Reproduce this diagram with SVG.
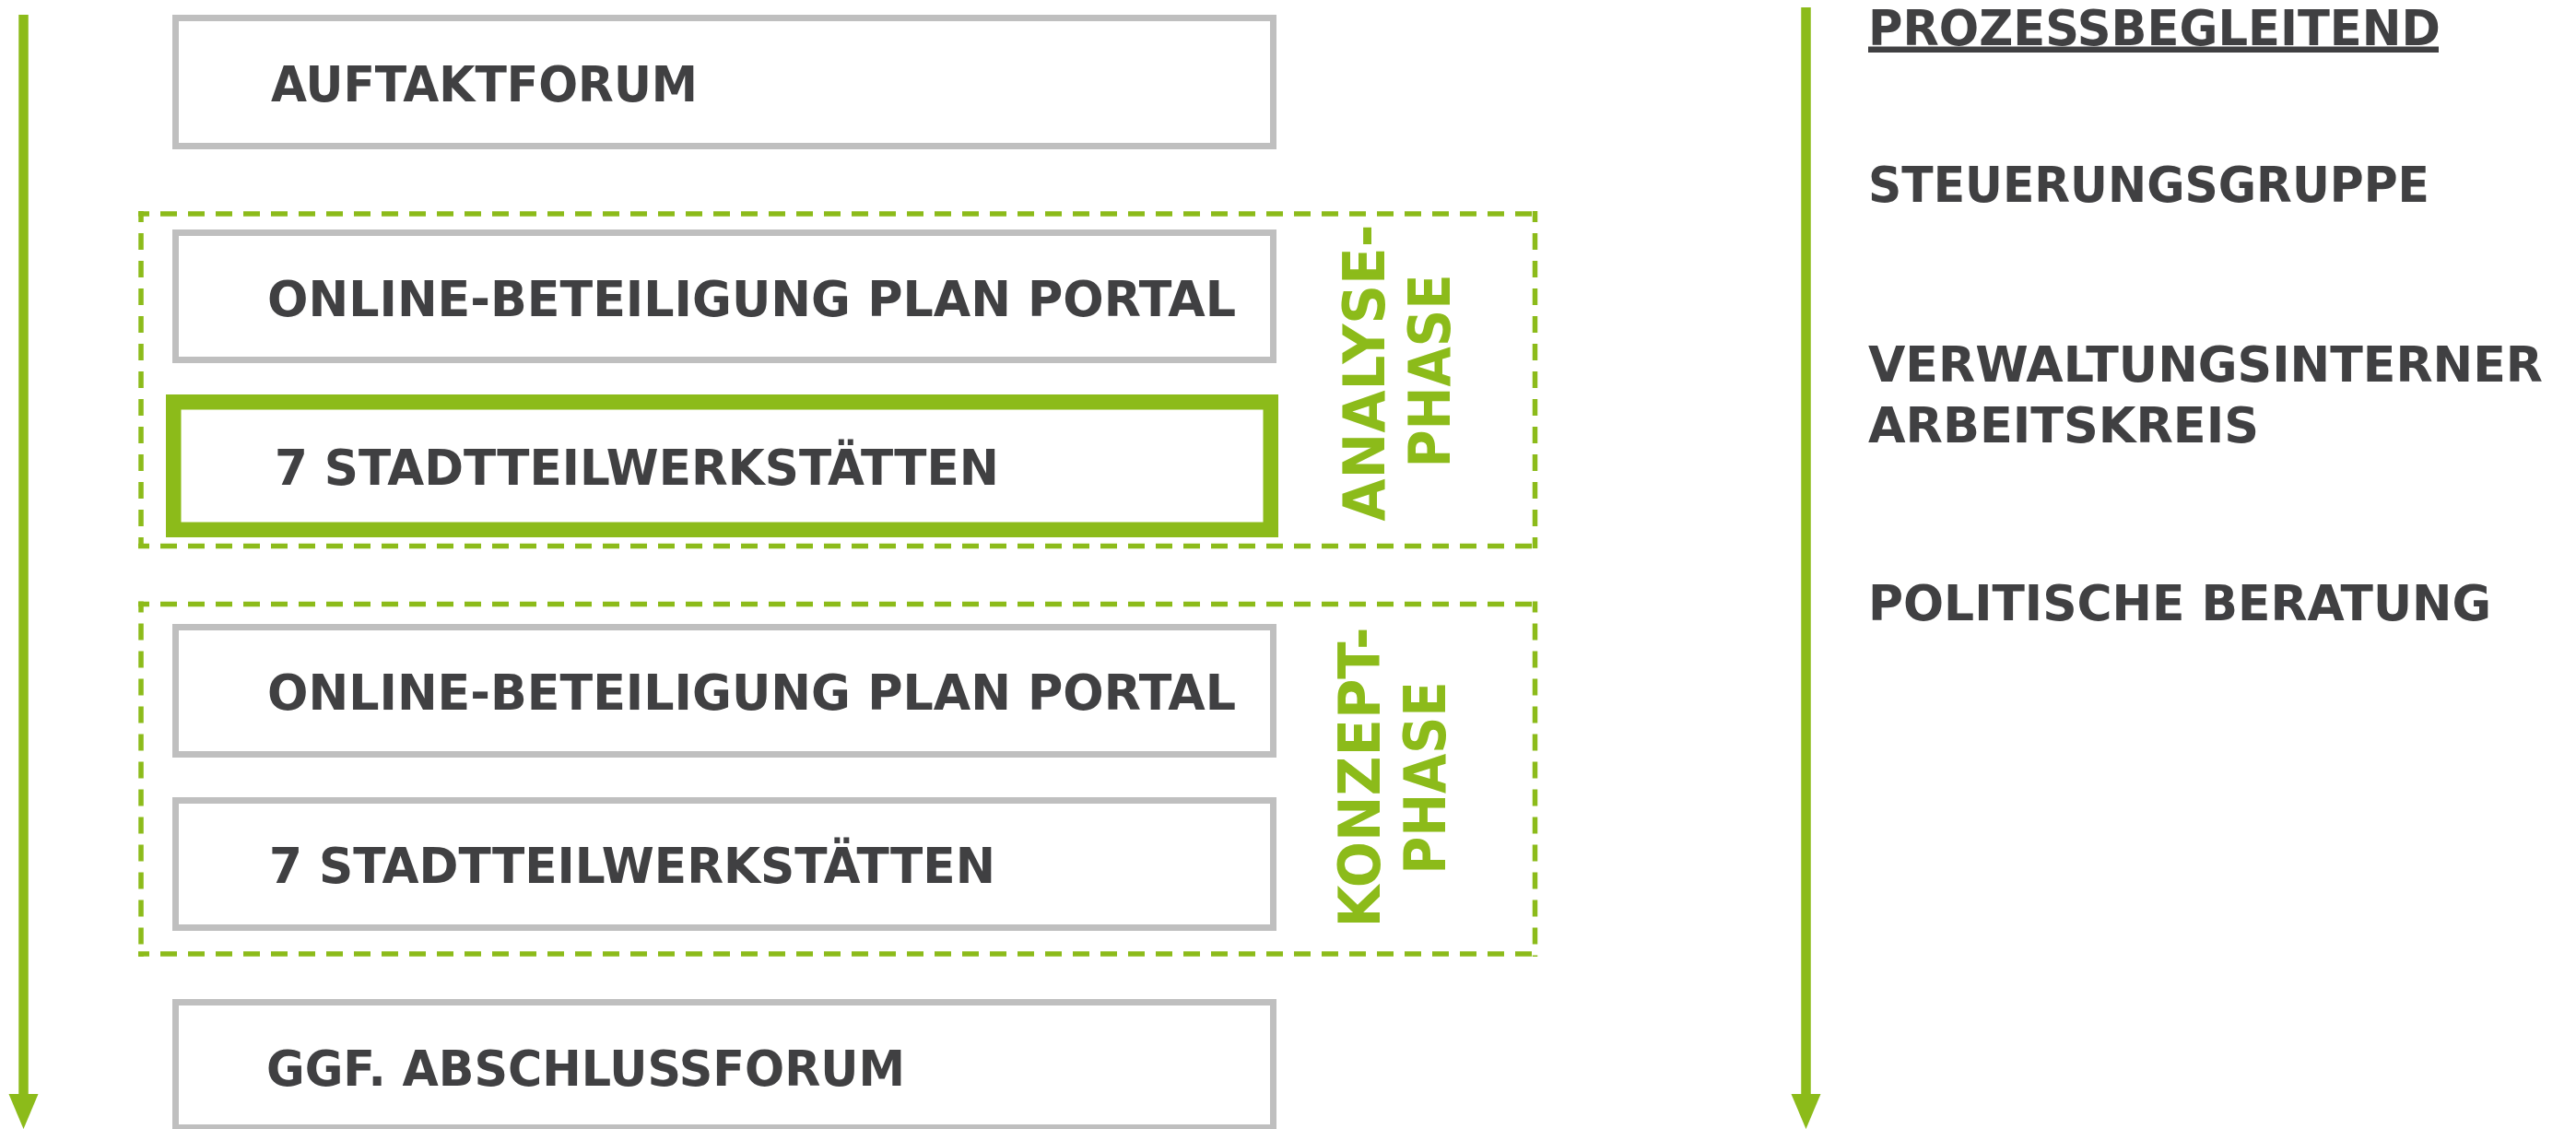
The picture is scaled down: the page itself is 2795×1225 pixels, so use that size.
<svg xmlns="http://www.w3.org/2000/svg" width="2795" height="1225" viewBox="0 0 2795 1225">
<style>
.bg{fill:#ffffff}
.box{fill:#ffffff;stroke:#BFBFBF;stroke-width:7}
.hl{fill:#ffffff;stroke:#8CBB1A;stroke-width:16.5}
.dash{fill:none;stroke:#8CBB1A;stroke-width:5.5;stroke-dasharray:18 12;stroke-dashoffset:6}
.t{font-family:"DejaVu Sans","Verdana",sans-serif;font-weight:bold;font-size:54px;fill:#404042}
.v{font-family:"DejaVu Sans","Verdana",sans-serif;font-weight:bold;font-size:62px;fill:#8CBB1A;text-anchor:middle}
.arr{stroke:#8CBB1A;stroke-width:10.5;fill:none}
</style>
<defs>
<marker id="ah" markerUnits="userSpaceOnUse" markerWidth="40" markerHeight="34" refX="0" refY="16" orient="auto" overflow="visible">
<path d="M0,0 L38,16 L0,32 z" fill="#8CBB1A"/>
</marker>
</defs>
<rect class="bg" x="0" y="0" width="2795" height="1225"/>

<g id="connectors">
<line class="arr" x1="25.5" y1="16" x2="25.5" y2="1187" marker-end="url(#ah)"/>
<line class="arr" x1="1959.5" y1="8" x2="1959.5" y2="1187" marker-end="url(#ah)"/>
</g>

<g id="phase-analyse">
<line class="dash" x1="150" y1="232" x2="1668" y2="232"/>
<line class="dash" x1="153" y1="229" x2="153" y2="595"/>
<line class="dash" x1="1665.5" y1="229" x2="1665.5" y2="595"/>
<line class="dash" x1="150" y1="592.5" x2="1668" y2="592.5"/>
<text class="v" transform="translate(1502,404.5) rotate(-90)" textLength="322" lengthAdjust="spacingAndGlyphs">ANALYSE-</text>
<text class="v" transform="translate(1573,402.5) rotate(-90)" textLength="210" lengthAdjust="spacingAndGlyphs">PHASE</text>
</g>

<g id="phase-konzept">
<line class="dash" x1="150" y1="655.5" x2="1668" y2="655.5"/>
<line class="dash" x1="153" y1="652.5" x2="153" y2="1038"/>
<line class="dash" x1="1665.5" y1="652.5" x2="1665.5" y2="1038"/>
<line class="dash" x1="150" y1="1035" x2="1668" y2="1035"/>
<text class="v" transform="translate(1497,843.5) rotate(-90)" textLength="326" lengthAdjust="spacingAndGlyphs">KONZEPT-</text>
<text class="v" transform="translate(1568,844) rotate(-90)" textLength="209" lengthAdjust="spacingAndGlyphs">PHASE</text>
</g>

<g id="auftaktforum">
<rect class="box" x="190.5" y="19.5" width="1191" height="139"/>
<text class="t" x="294" y="110" textLength="463" lengthAdjust="spacingAndGlyphs">AUFTAKTFORUM</text>
</g>

<g id="online-1">
<rect class="box" x="190.5" y="252.5" width="1191" height="138"/>
<text class="t" x="290" y="343" textLength="1051" lengthAdjust="spacingAndGlyphs">ONLINE-BETEILIGUNG PLAN PORTAL</text>
</g>

<g id="werkstaetten-1">
<rect class="hl" x="188.25" y="436.25" width="1190.5" height="138.5"/>
<text class="t" x="298" y="526" textLength="786" lengthAdjust="spacingAndGlyphs">7 STADTTEILWERKSTÄTTEN</text>
</g>

<g id="online-2">
<rect class="box" x="190.5" y="680.5" width="1191" height="138"/>
<text class="t" x="290" y="770" textLength="1051" lengthAdjust="spacingAndGlyphs">ONLINE-BETEILIGUNG PLAN PORTAL</text>
</g>

<g id="werkstaetten-2">
<rect class="box" x="190.5" y="868.5" width="1191" height="138"/>
<text class="t" x="292" y="958" textLength="788" lengthAdjust="spacingAndGlyphs">7 STADTTEILWERKSTÄTTEN</text>
</g>

<g id="abschlussforum">
<rect class="box" x="190.5" y="1087.5" width="1191" height="136"/>
<text class="t" x="289" y="1178" textLength="693" lengthAdjust="spacingAndGlyphs">GGF. ABSCHLUSSFORUM</text>
</g>

<g id="prozessbegleitend">
<text class="t" x="2027" y="49" textLength="621" lengthAdjust="spacingAndGlyphs">PROZESSBEGLEITEND</text>
<rect x="2027" y="50.5" width="619" height="6.5" fill="#404042"/>
</g>

<g id="steuerungsgruppe">
<text class="t" x="2027" y="219" textLength="609" lengthAdjust="spacingAndGlyphs">STEUERUNGSGRUPPE</text>
</g>

<g id="arbeitskreis">
<text class="t" x="2027" y="414" textLength="732" lengthAdjust="spacingAndGlyphs">VERWALTUNGSINTERNER</text>
<text class="t" x="2027" y="480" textLength="424" lengthAdjust="spacingAndGlyphs">ARBEITSKREIS</text>
</g>

<g id="politische-beratung">
<text class="t" x="2027" y="673" textLength="676" lengthAdjust="spacingAndGlyphs">POLITISCHE BERATUNG</text>
</g>
</svg>
